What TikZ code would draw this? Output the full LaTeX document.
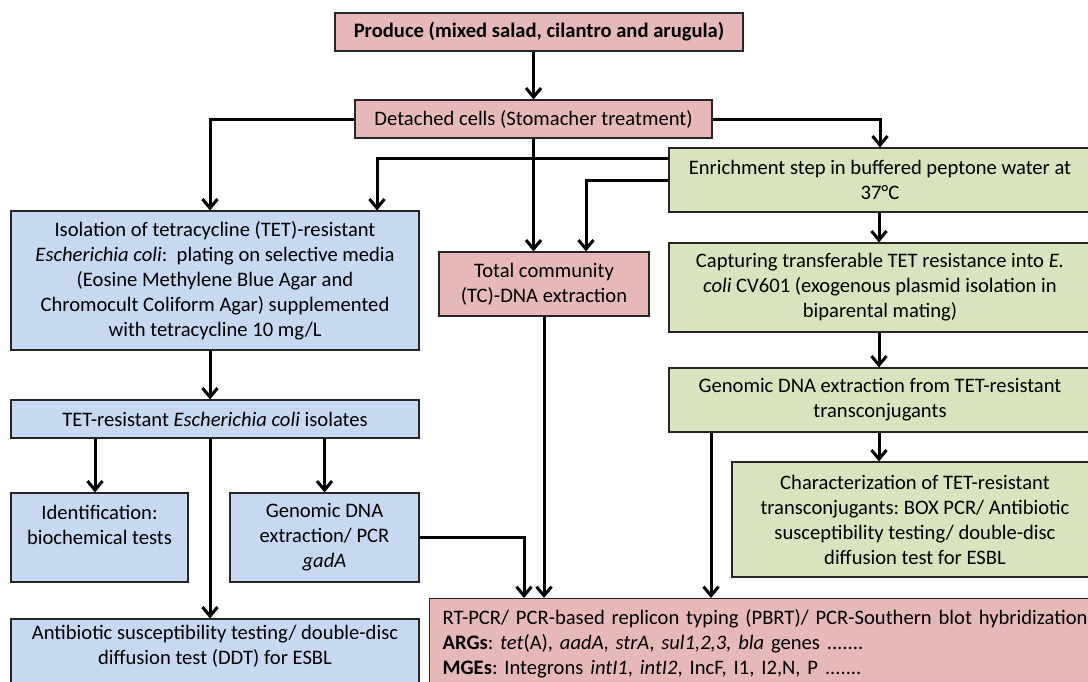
\documentclass[tikz,border=0pt]{standalone}
\usepackage{fontspec}
\setmainfont{Carlito}
\usetikzlibrary{arrows.meta}
\definecolor{pinkfill}{HTML}{E6B9B8}
\definecolor{bluefill}{HTML}{C6D9F1}
\definecolor{greenfill}{HTML}{D7E4BD}
\tikzset{
  box/.style={draw=black!85, line width=1.2pt, align=center, inner sep=0pt,
    font=\fontsize{20.6}{25}\selectfont\frenchspacing},
  pinkbox/.style={box, fill=pinkfill},
  bluebox/.style={box, fill=bluefill},
  greenbox/.style={box, fill=greenfill},
  arr/.style={line width=3pt, -{Straight Barb[length=9pt,width=15pt]}}
}
\begin{document}
\begin{tikzpicture}[x=1pt,y=-1pt]
\useasboundingbox (0,0) rectangle (1088,681);
\clip (0,0) rectangle (1088,681);
\fill[white] (0,0) rectangle (1088,681);
% nodes
\node[pinkbox, minimum width=408pt, minimum height=38pt] (prod) at (539,32) {\textbf{Produce (mixed salad, cilantro and arugula)}};
\node[pinkbox, minimum width=357pt, minimum height=38pt] (det) at (533.5,119) {Detached cells (Stomacher treatment)};
\node[bluebox, minimum width=408pt, minimum height=139pt] (iso) at (215,280.5) {Isolation of tetracycline (TET)-resistant\\\textit{Escherichia coli}:\ \ plating on selective media\\(Eosine Methylene Blue Agar and\\Chromocult Coliform Agar) supplemented\\with tetracycline 10 mg/L};
\node[pinkbox, minimum width=210pt, minimum height=64pt] (tc) at (544,284) {Total community\\(TC)-DNA extraction};
\node[greenbox, minimum width=422pt, minimum height=64pt] (enr) at (880,180) {Enrichment step in buffered peptone water at\\37°C};
\node[greenbox, minimum width=422pt, minimum height=89pt] (cap) at (880,287.5) {Capturing transferable TET resistance into \textit{E.}\\\textit{coli} CV601 (exogenous plasmid isolation in\\biparental mating)};
\node[greenbox, minimum width=422pt, minimum height=64pt] (gen) at (880,400) {Genomic DNA extraction from TET-resistant\\transconjugants};
\node[greenbox, minimum width=366pt, minimum height=115pt] (chr) at (915,519.5) {Characterization of TET-resistant\\transconjugants: BOX PCR/ Antibiotic\\susceptibility testing/ double-disc\\diffusion test for ESBL};
\node[bluebox, minimum width=408pt, minimum height=38pt] (isol) at (215,419) {TET-resistant \textit{Escherichia coli} isolates};
\node[bluebox, minimum width=177pt, minimum height=89pt] (ident) at (99.5,537.5) {Identification:\\biochemical tests\\\mbox{}};
\node[bluebox, minimum width=189pt, minimum height=89pt] (gbl) at (324.5,537.5) {Genomic DNA\\extraction/ PCR\\\textit{gadA}};
\node[bluebox, minimum width=408pt, minimum height=76pt] (abx) at (215,657) {Antibiotic susceptibility testing/ double-disc\\diffusion test (DDT) for ESBL\\\mbox{}};
\node[pinkbox, anchor=north west, minimum width=671pt, minimum height=90pt, inner xsep=13pt, text width=645pt, align=left] (rt) at (429,598) {\mbox{RT-PCR/ PCR-based replicon typing (PBRT)/ PCR-Southern blot hybridization}\\\textbf{ARGs}: \textit{tet}(A), \textit{aadA}, \textit{strA}, \textit{sul1,2,3,} \textit{bla} genes .......\\\textbf{MGEs}: Integrons \textit{intI1}, \textit{intI2}, IncF, I1, I2,N, P .......};
% connectors
\draw[arr] (prod.south -| det.north) -- (det.north);
\draw[arr] (det.west) -| ([xshift=-5pt]iso.north);
\draw[arr] (det.east) -| (enr.north);
\draw[arr] (det.south) -- (det.south |- tc.north);
\draw[arr] ([yshift=22pt]enr.west) -| ([xshift=162pt]iso.north);
\draw[arr] (enr.west) -| ([xshift=42pt]tc.north);
\draw[arr] (tc.south) -- (tc.south |- rt.north);
\draw[arr] ([xshift=-1pt]enr.south) -- ([xshift=-1pt]cap.north);
\draw[arr] ([xshift=-1pt]cap.south) -- ([xshift=-1pt]gen.north);
\draw[arr] ([xshift=-1pt]gen.south) -- ([xshift=-1pt]gen.south |- chr.north);
\draw[arr] ([xshift=-169pt]gen.south) -- ([xshift=-169pt]gen.south |- rt.north);
\draw[arr] ([xshift=-5pt]iso.south) -- ([xshift=-5pt]isol.north);
\draw[arr] ([xshift=-4.5pt]ident.north |- isol.south) -- ([xshift=-4.5pt]ident.north);
\draw[arr] ([xshift=-5pt]isol.south) -- ([xshift=-5pt]abx.north);
\draw[arr] (gbl.north |- isol.south) -- (gbl.north);
\draw[arr] (gbl.east) -| ([xshift=95pt]rt.north west);
\end{tikzpicture}
\end{document}
